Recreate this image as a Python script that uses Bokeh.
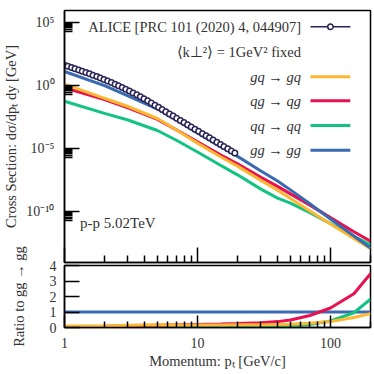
import numpy as np
from bokeh.plotting import figure
from bokeh.layouts import column
from bokeh.models import FixedTicker, Label, Range1d, PrintfTickFormatter
from bokeh.embed import file_html
from bokeh.resources import INLINE

# ---------------- data ----------------
pt_theory = [1, 2, 3, 5, 7, 10, 15, 20, 30, 40, 50, 70, 100, 150, 200]
xs_gq = [1.32, 1.0e-1, 2.24e-2, 2.51e-3, 2.95e-4, 2.82e-5, 2.24e-6, 4.27e-7,
         3.16e-8, 5.37e-9, 1.17e-9, 1.20e-10, 1.10e-11, 8.13e-13, 1.26e-13]
xs_qg = [6.61e-1, 7.94e-2, 1.74e-2, 2.14e-3, 3.02e-4, 3.55e-5, 3.24e-6, 6.46e-7,
         5.50e-8, 1.07e-8, 2.69e-9, 3.47e-10, 3.55e-11, 2.75e-12, 4.90e-13]
xs_qq = [5.89e-2, 6.46e-3, 1.91e-3, 2.82e-4, 4.57e-5, 5.62e-6, 4.79e-7, 8.71e-8,
         6.46e-9, 1.26e-9, 5.01e-10, 8.91e-11, 1.20e-11, 1.20e-12, 2.57e-13]
xs_gg = [13.2, 1.0, 1.58e-1, 1.41e-2, 1.78e-3, 1.78e-4, 1.41e-5, 2.51e-6,
         1.78e-7, 2.82e-8, 5.62e-9, 4.47e-10, 2.82e-11, 1.26e-12, 1.41e-13]

alice_pt = [1.00, 1.06, 1.13, 1.20, 1.28, 1.36, 1.45, 1.54, 1.64, 1.75, 1.86, 1.98,
            2.11, 2.25, 2.40, 2.55, 2.72, 2.89, 3.08, 3.28, 3.50, 3.72, 3.96, 4.22,
            4.50, 4.79, 5.10, 5.43, 5.78, 6.16, 6.56, 6.98, 7.44, 7.92, 8.43, 8.98,
            9.57, 10.2, 10.9, 11.6, 12.3, 13.1, 14.0, 14.9, 15.8, 16.9, 18.0, 19.1]
alice_xs = [41.7, 34.3, 27.5, 22.3, 17.6, 14.1, 11.0, 8.73, 6.81, 5.22, 4.05, 3.10,
            2.35, 1.74, 1.29, 0.971, 0.708, 0.521, 0.374, 0.267, 0.187, 0.132, 0.0918, 0.0628,
            0.0424, 0.0286, 0.0191, 0.0129, 8.67e-3, 5.80e-3, 3.90e-3, 2.64e-3, 1.77e-3, 1.19e-3, 8.04e-4, 5.40e-4,
            3.61e-4, 2.42e-4, 1.59e-4, 1.07e-4, 7.43e-5, 5.00e-5, 3.29e-5, 2.22e-5, 1.53e-5, 1.00e-5, 6.75e-6, 4.65e-6]

series_names = ["gq \u2192 gq", "qg \u2192 qg", "qq \u2192 qq", "gg \u2192 gg"]
alice_label = "ALICE [PRC 101 (2020) 4, 044907]"
kt_label = "\u27e8k\u22a5\u00b2\u27e9 = 1GeV\u00b2 fixed"
system_label = "p-p 5.02TeV"
y_tick_labels = {1e5: "10\u2075", 1.0: "10\u2070", 1e-5: "10\u207b\u2075", 1e-10: "10\u207b\u00b9\u2070"}

# ---------------- style ----------------
FONT = "Liberation Serif"
NAVY = "#2a2456"
COLORS = ["#fdb732", "#e8104f", "#12c382", "#3a6ab0"]
series = [xs_gq, xs_qg, xs_qq, xs_gg]

W = 374
LEFT = 64
RIGHT = 4

x_major = [1, 10, 100]
x_minor = [m * d for d in (1, 10, 100) for m in range(2, 10) if m * d <= 200]


def style_axes(p):
    for ax in (p.xaxis[0], p.yaxis[0]):
        ax.major_tick_out = 0
        ax.minor_tick_out = 0
        ax.major_tick_line_width = 1.5
        ax.minor_tick_line_width = 1.5
        ax.major_tick_line_color = "black"
        ax.minor_tick_line_color = "black"
        ax.axis_line_width = 1.5
        ax.axis_line_color = "black"
        ax.major_label_text_font = FONT
        ax.major_label_text_font_size = "14px"
        ax.major_label_text_color = "#333333"
        ax.axis_label_text_font = FONT
        ax.axis_label_text_font_size = "14.5px"
        ax.axis_label_text_font_style = "normal"
        ax.axis_label_text_color = "#333333"
    p.xgrid.visible = False
    p.ygrid.visible = False
    p.outline_line_color = "black"
    p.outline_line_width = 1.5
    p.outline_line_alpha = 1.0


# ---------------- top panel ----------------
H1 = 270
p1 = figure(width=W, height=H1, x_axis_type="log", y_axis_type="log",
            x_range=Range1d(1, 200), y_range=Range1d(1e-14, 10 ** 5.95),
            output_backend="svg", toolbar_location=None,
            min_border_left=LEFT, min_border_right=RIGHT, min_border_top=10, min_border_bottom=8)
style_axes(p1)
p1.xaxis.ticker = FixedTicker(ticks=x_major, minor_ticks=x_minor)
p1.xaxis.formatter = PrintfTickFormatter(format="%d")
p1.xaxis.major_tick_in = 15
p1.xaxis.minor_tick_in = 7
p1.xaxis.major_label_text_font_size = "1px"
p1.xaxis.major_label_text_alpha = 0
p1.xaxis.major_label_standoff = 0

y_major = [1e-10, 1e-5, 1.0, 1e5]
y_minor = [m * t / 10 for t in y_major for m in range(2, 10)]
p1.yaxis.ticker = FixedTicker(ticks=y_major, minor_ticks=y_minor)
p1.yaxis.major_label_overrides = y_tick_labels
p1.yaxis.major_tick_in = 15
p1.yaxis.minor_tick_in = 8
p1.yaxis.major_label_standoff = 10
p1.yaxis.axis_label = "Cross Section: d\u03c3/dp\u209c dy [GeV]"
p1.yaxis.axis_label_standoff = 4

draw_order = [2, 1, 0, 3]
for i in draw_order:
    p1.line(pt_theory, series[i], line_color=COLORS[i], line_width=3)
p1.scatter(alice_pt, alice_xs, marker="circle", size=5.5, fill_color="white",
           line_color=NAVY, line_width=1.5)

# legend (drawn manually, samples to the right of the labels)
lab_x = 60
samp_x = [70.8, 141]
leg_y = [10 ** 4.66, 10 ** 2.65, 10 ** 0.70, 10 ** -1.20, 10 ** -3.16, 10 ** -5.11]
leg_texts = [alice_label, kt_label] + series_names
for k, txt in enumerate(leg_texts):
    p1.add_layout(Label(x=lab_x, y=leg_y[k], text=txt, text_align="right",
                        text_baseline="middle", text_font=FONT,
                        text_font_size="14.5px", text_color="#333333",
                        text_font_style="italic" if k >= 2 else "normal"))
p1.line(samp_x, [leg_y[0], leg_y[0]], line_color=NAVY, line_width=1.5)
p1.scatter([100], [leg_y[0]], marker="circle", size=5.5, fill_color="white",
           line_color=NAVY, line_width=1.5)
for i in range(4):
    p1.line(samp_x, [leg_y[2 + i], leg_y[2 + i]], line_color=COLORS[i], line_width=3)

p1.add_layout(Label(x=1.31, y=10 ** -10.9, text=system_label, text_align="left",
                    text_baseline="middle", text_font=FONT,
                    text_font_size="15px", text_color="#333333"))

# ---------------- ratio panel ----------------
TOP2 = 30
OVERLAP = 35
H2 = TOP2 + 62 + 47
p2 = figure(width=W, height=H2, x_axis_type="log",
            x_range=p1.x_range, y_range=Range1d(0, 4),
            output_backend="svg", toolbar_location=None,
            min_border_left=LEFT, min_border_right=RIGHT, min_border_top=TOP2, min_border_bottom=47,
            margin=(-OVERLAP, 0, 0, 0))
style_axes(p2)
p2.border_fill_alpha = 0
p2.xaxis.ticker = FixedTicker(ticks=x_major, minor_ticks=x_minor)
p2.xaxis.formatter = PrintfTickFormatter(format="%d")
p2.xaxis.major_tick_in = 12
p2.xaxis.minor_tick_in = 6
p2.xaxis.major_label_standoff = 10
p2.xaxis.axis_label = "Momentum: p\u209c [GeV/c]"
p2.xaxis.axis_label_standoff = 2
p2.yaxis.ticker = FixedTicker(ticks=[0, 1, 2, 3, 4], minor_ticks=[])
p2.yaxis.major_tick_in = 15
p2.yaxis.major_label_standoff = 8
p2.yaxis.axis_label = "Ratio to gg \u2192 gg"
p2.yaxis.axis_label_standoff = 20

gg_arr = np.array(xs_gg)
for i in [3, 2, 1, 0]:
    p2.line(pt_theory, np.array(series[i]) / gg_arr, line_color=COLORS[i], line_width=3)

layout = column(p1, p2, spacing=0)
open("out.html", "w").write(file_html(layout, INLINE))
